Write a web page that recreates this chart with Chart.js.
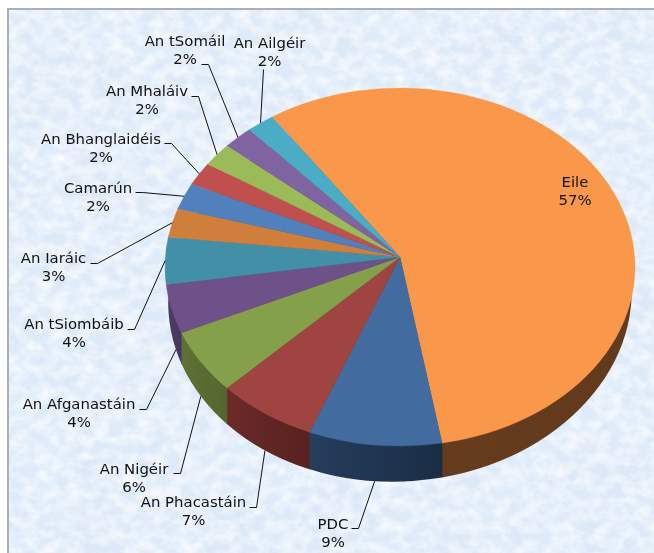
<!DOCTYPE html>
<html lang="ga"><head><meta charset="utf-8">
<script src="https://cdn.jsdelivr.net/npm/chart.js@4"></script>
<style>
html,body{margin:0;padding:0;background:#fff;width:654px;height:553px;overflow:hidden}
#plate{position:absolute;left:7px;top:8px;width:647px;height:545px;border-left:2px solid #aab0b8;border-top:2px solid #aab0b8;box-sizing:border-box;background:#dde9f8;overflow:hidden}
#plate svg{position:absolute;left:0;top:0}
#wrap{position:absolute;left:0;top:0;width:654px;height:553px}
</style></head><body>
<div id="plate"><svg width="647" height="545"><defs>
<filter id="paper" x="0" y="0" width="100%" height="100%">
<feTurbulence type="fractalNoise" baseFrequency="0.07 0.09" numOctaves="4" seed="7"/>
<feColorMatrix type="matrix" values="0 0 0 0 1  0 0 0 0 1  0 0 0 0 1  1.5 0 0 0 -0.5"/>
</filter>
<filter id="blue" x="0" y="0" width="100%" height="100%">
<feTurbulence type="fractalNoise" baseFrequency="0.018" numOctaves="4" seed="21"/>
<feColorMatrix type="matrix" values="0 0 0 0 0.76  0 0 0 0 0.87  0 0 0 0 0.98  0 1.2 0 0 -0.45"/>
</filter></defs>
<rect width="647" height="545" filter="url(#blue)"/>
<rect width="647" height="545" filter="url(#paper)"/>
</svg></div>
<div id="wrap"><canvas id="c" width="654" height="553"></canvas></div>
<script>
const categories = ["Eile","PDC","An Phacastáin","An Nigéir","An Afganastáin","An tSiombáib","An Iaráic","Camarún","An Bhanglaidéis","An Mhaláiv","An tSomáil","An Ailgéir"];
const shares = [56.5,9.2,6.9,5.85,4.45,4.25,2.6,2.4,2.1,2.1,2.1,1.9];

const faceColors = ["#f9984a","#426c9f","#9f4441","#85a04b","#6d5188","#4190a8","#cf7f3b","#5181bd","#c0504d","#9bbb59","#8064a2","#4bacc6"];
const wallColors = [["#653c1c","#623a1c"],["#263d5c","#1a2d45"],["#6b2b29","#572120"],["#5f7136","#54652e"],["#4e3b66","#483660"],["#2e6375","#2e6375"],["#8a5528","#8a5528"],["#365680","#365680"],["#7f3533","#7f3533"],["#67803a","#67803a"],["#55426d","#55426d"],["#327486","#327486"]];

// label anchor (centre of first line) and the leader's start/elbow, by category
const labelX = [575,333,193.5,134,79,74,53.5,98,101,147,185,269.5];
const labelY = [182,524,502,469,404,324,258,188,139,91,41,43];
const leaderStart = [null,[351,528],[249,507],[173,473],[139,409],[127,329],[90,263],[135,192],[164,143],[191,96],[201,64],[263,69]];
const leaderElbow = [null,[358,528],[256,507],[180,473],[146,409],[134,329],[97,263],[142,192],[171,143],[198,96],[208,64],null];
const leaderAimShift = [0,0,0,0,-4,0,0,0,0,0,0,0];

const FACE = {cx:400, cy:267, rx:235, ry:179, apexY:257};
const BASE = {cx:400, cy:296.5, rx:232, ry:185, rot:-4*Math.PI/180};

function rimPoint(a){ return [FACE.cx+FACE.rx*Math.cos(a), FACE.cy+FACE.ry*Math.sin(a)]; }
function baseY(x){ // lower edge of the tilted base ellipse at screen x
  let best=null, bd=1e9;
  for(let t=0;t<=Math.PI;t+=0.002){
    const X=BASE.rx*Math.cos(t), Y=BASE.ry*Math.sin(t);
    const px=BASE.cx+X*Math.cos(BASE.rot)-Y*Math.sin(BASE.rot);
    const py=BASE.cy+X*Math.sin(BASE.rot)+Y*Math.cos(BASE.rot);
    const d=Math.abs(px-x); if(d<bd){bd=d;best=py;}
  }
  return best;
}

// top face of the tilted pie: the library calls this for every slice
Chart.ArcElement.prototype.draw = function(ctx){
  const o=this.options;
  ctx.save();
  ctx.beginPath();
  ctx.moveTo(FACE.cx,FACE.apexY);
  ctx.ellipse(FACE.cx,FACE.cy,FACE.rx,FACE.ry,0,this.startAngle,this.endAngle);
  ctx.closePath();
  ctx.fillStyle=o.backgroundColor;
  ctx.fill();
  ctx.strokeStyle=o.backgroundColor;
  ctx.lineWidth=0.4;
  ctx.stroke();
  ctx.restore();
};

const wallPlugin={id:'wall',beforeDatasetsDraw(chart){
  const ctx=chart.ctx, arcs=chart.getDatasetMeta(0).data;
  arcs.forEach((arc,i)=>{
    let xs=[];
    const n=60;
    for(let k=0;k<=n;k++){
      const a=arc.startAngle+(arc.endAngle-arc.startAngle)*k/n;
      if(Math.sin(a)>=-0.001) xs.push(rimPoint(a)[0]);
    }
    if(xs.length<2) return;
    const x0=Math.min(...xs), x1=Math.max(...xs);
    const g=ctx.createLinearGradient(x0,0,x1,0);
    g.addColorStop(0,wallColors[i][0]); g.addColorStop(1,wallColors[i][1]);
    ctx.save();
    ctx.beginPath(); ctx.rect(x0-0.3,0,x1-x0+0.6,553); ctx.clip();
    ctx.beginPath();
    ctx.ellipse(BASE.cx,BASE.cy,BASE.rx,BASE.ry,BASE.rot,0,Math.PI*2);
    ctx.fillStyle=g; ctx.fill();
    ctx.restore();
  });
}};

const labelPlugin={id:'sliceLabels',afterDatasetsDraw(chart){
  const ctx=chart.ctx, arcs=chart.getDatasetMeta(0).data;
  ctx.save();
  ctx.strokeStyle="#111"; ctx.lineWidth=1;
  arcs.forEach((arc,i)=>{
    if(leaderStart[i]){
      const mid=(arc.startAngle+arc.endAngle)/2+leaderAimShift[i]*Math.PI/180;
      let [ex,ey]=rimPoint(mid);
      if(Math.sin(mid)>0.3) ey=baseY(ex);
      ctx.beginPath();
      ctx.moveTo(leaderStart[i][0]+0.5,leaderStart[i][1]+0.5);
      if(leaderElbow[i]) ctx.lineTo(leaderElbow[i][0]+0.5,leaderElbow[i][1]+0.5);
      ctx.lineTo(ex,ey);
      ctx.stroke();
    }
    ctx.fillStyle="#111";
    ctx.font='14.9px "DejaVu Sans"';
    ctx.textAlign="center"; ctx.textBaseline="middle";
    ctx.fillText(categories[i],labelX[i],labelY[i]+1);
    ctx.fillText(Math.round(shares[i])+"%",labelX[i],labelY[i]+19.5);
  });
  ctx.restore();
}};

new Chart(document.getElementById('c'),{
  type:'pie',
  data:{labels:categories,datasets:[{data:shares,backgroundColor:faceColors,borderWidth:0}]},
  options:{
    responsive:false,animation:false,rotation:-33,
    layout:{padding:{left:165,right:19,top:32,bottom:51}},
    plugins:{legend:{display:false},tooltip:{enabled:false}}
  },
  plugins:[wallPlugin,labelPlugin]
});
</script>
</body></html>
